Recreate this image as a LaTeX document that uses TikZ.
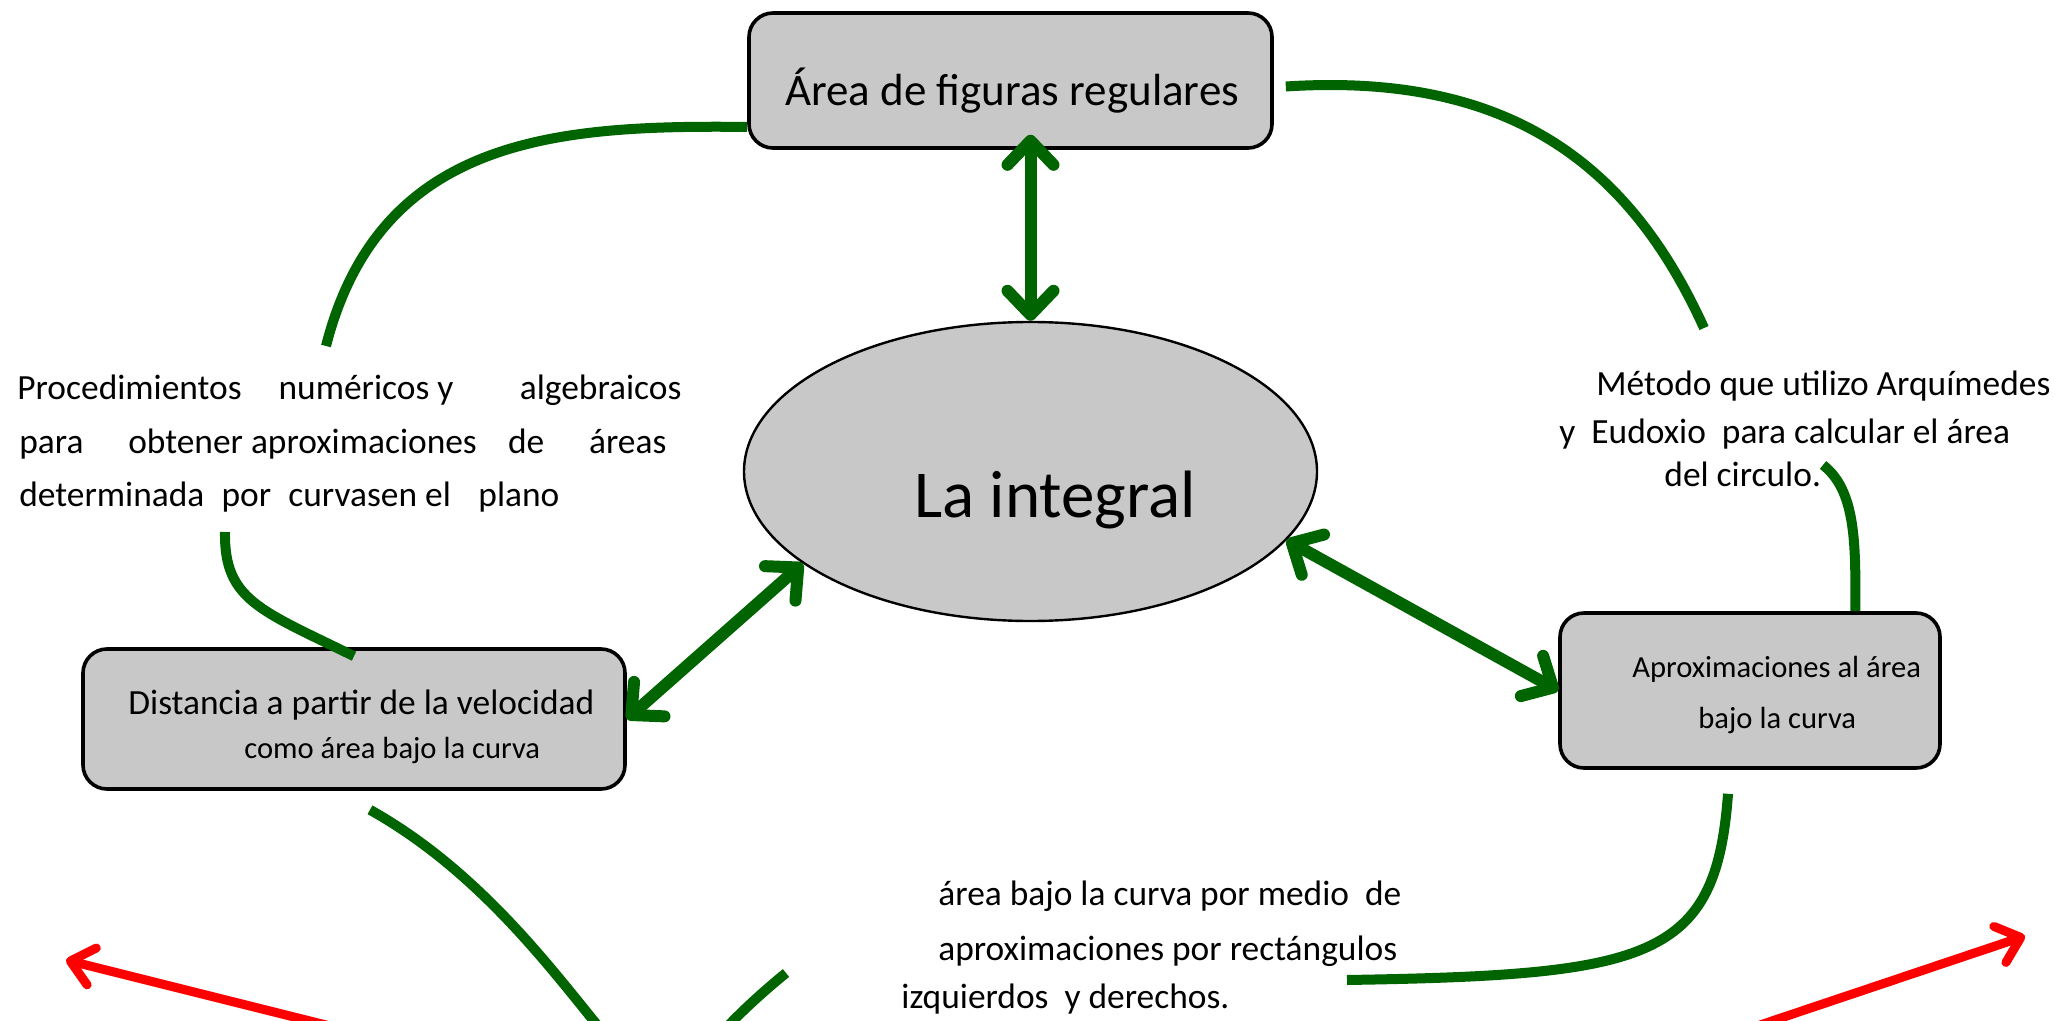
\documentclass[tikz,border=0pt]{standalone}
\usepackage{fontspec}
\setmainfont{Carlito}
\usetikzlibrary{arrows.meta,shapes.geometric}
\definecolor{dgreen}{RGB}{0,100,0}
\definecolor{boxgray}{RGB}{200,200,200}
\begin{document}
\begin{tikzpicture}[x=0.5pt,y=-0.5pt,
  box/.style={draw=black, line width=1.8pt, fill=boxgray, rounded corners=12pt, inner sep=0pt},
  txt/.style={anchor=base west, inner sep=0pt, text=black},
  para/.style={txt, font=\fontsize{17.7pt}{21pt}\selectfont},
  small/.style={txt, font=\fontsize{15.3pt}{18pt}\selectfont},
  gline/.style={draw=dgreen, line width=5pt},
  garrow/.style={draw=dgreen, line width=6pt, {Straight Barb[length=12pt,width=23pt,round]}-{Straight Barb[length=12pt,width=23pt,round]}},
  rarrow/.style={draw=red, line width=4.5pt, -{Straight Barb[length=11pt,width=19pt,round]}}]
\useasboundingbox (0,0) rectangle (2071,1021);
\clip (0,0) rectangle (2071,1021);

% nodes
\node[box, minimum width=261.5pt, minimum height=67.5pt] (tb) at (1010.5,80.5) {};
\node[txt, font=\fontsize{22.5pt}{27pt}\selectfont] (tbt) at (785,106) {Área de figuras regulares};

\node[draw=black, line width=1.2pt, fill=boxgray, ellipse, inner sep=0pt,
      minimum width=286.5pt, minimum height=149.5pt] (ell) at (1030.5,471.5) {};
\node[txt, font=\fontsize{33.5pt}{40pt}\selectfont] (elt) at (914,517) {La integral};

\node[box, minimum width=271pt, minimum height=70pt] (lb) at (354,719) {};
\node[para] (lb1) at (128,714) {Distancia a partir de la velocidad};
\node[small] (lb2) at (244,758) {como área bajo la curva};

\node[box, minimum width=190pt, minimum height=77.5pt] (rb) at (1750,690.5) {};
\node[small] (rb1) at (1632,677) {Aproximaciones al área};
\node[small] (rb2) at (1698,728) {bajo la curva};

\node[para] (lp1) at (17,400) {\makebox[332pt][s]{Procedimientos\hspace{\stretch{1}}numéricos y\hspace{\stretch{1.8}}algebraicos}};
\node[para] (lp2) at (19,453) {\makebox[323.5pt][s]{para\hspace{\stretch{1}}obtener aproximaciones\hspace{\stretch{0.7}}de\hspace{\stretch{1}}áreas}};
\node[para] (lp3) at (19,506) {\makebox[270pt][s]{determinada\hspace{\stretch{1}}por\hspace{\stretch{1}}curvasen el\hspace{\stretch{1.6}}plano}};

\node[para] (rp1) at (1596,395) {Método que utilizo Arquímedes};
\node[para] (rp2) at (1559,444) {y\ \ Eudoxio\ \ para calcular el área};
\node[para] (rp3) at (1664,486) {del circulo.};

\node[para] (bp1) at (938,905) {área bajo la curva por medio\ \ de};
\node[para] (bp2) at (938,960) {aproximaciones por rectángulos};
\node[para] (bp3) at (901,1008) {izquierdos\ \ y derechos.};

% free ends
\coordinate (c1) at (326,346);
\coordinate (c2) at (1704,328);
\coordinate (c3) at (225,532);
\coordinate (c4) at (786,973);
\coordinate (c5) at (1823,465);
\coordinate (c6) at (1347,980);
\coordinate (r1s) at (330,1026);
\coordinate (r1e) at (66,960);
\coordinate (r2s) at (1760,1025);
\coordinate (r2e) at (2025,936);

% green curves
\draw[gline] (tb.190) .. controls (560,125) and (380,135) .. (c1);
\draw[gline] ([xshift=6pt,yshift=-3pt]tb.east) .. controls (1510,72) and (1630,165) .. (c2);
\draw[gline] (c3) .. controls (224,600) and (260,610) .. ([yshift=-4.5pt]lb.north);
\draw[gline] ([xshift=8pt,yshift=-9.5pt]lb.south) .. controls (540,905) and (620,1090) .. (670,1088)
   .. controls (685,1085) and (700,1043) .. (c4);
\draw[gline] (rb.37) .. controls (1856,540) and (1855,490) .. (c5);
\draw[gline] ([xshift=-11pt,yshift=-12pt]rb.south) .. controls (1716,960) and (1650,975) .. (c6);

% double arrows
\draw[garrow] (ell.north) -- ([yshift=7.5pt]ell.north |- tb.south);
\draw[garrow] (lb.east) -- (ell.202);
\draw[garrow] (ell.-15) -- (rb.west);

% red arrows
\draw[rarrow] (r1s) -- (r1e);
\draw[rarrow] (r2s) -- (r2e);
\end{tikzpicture}
\end{document}
